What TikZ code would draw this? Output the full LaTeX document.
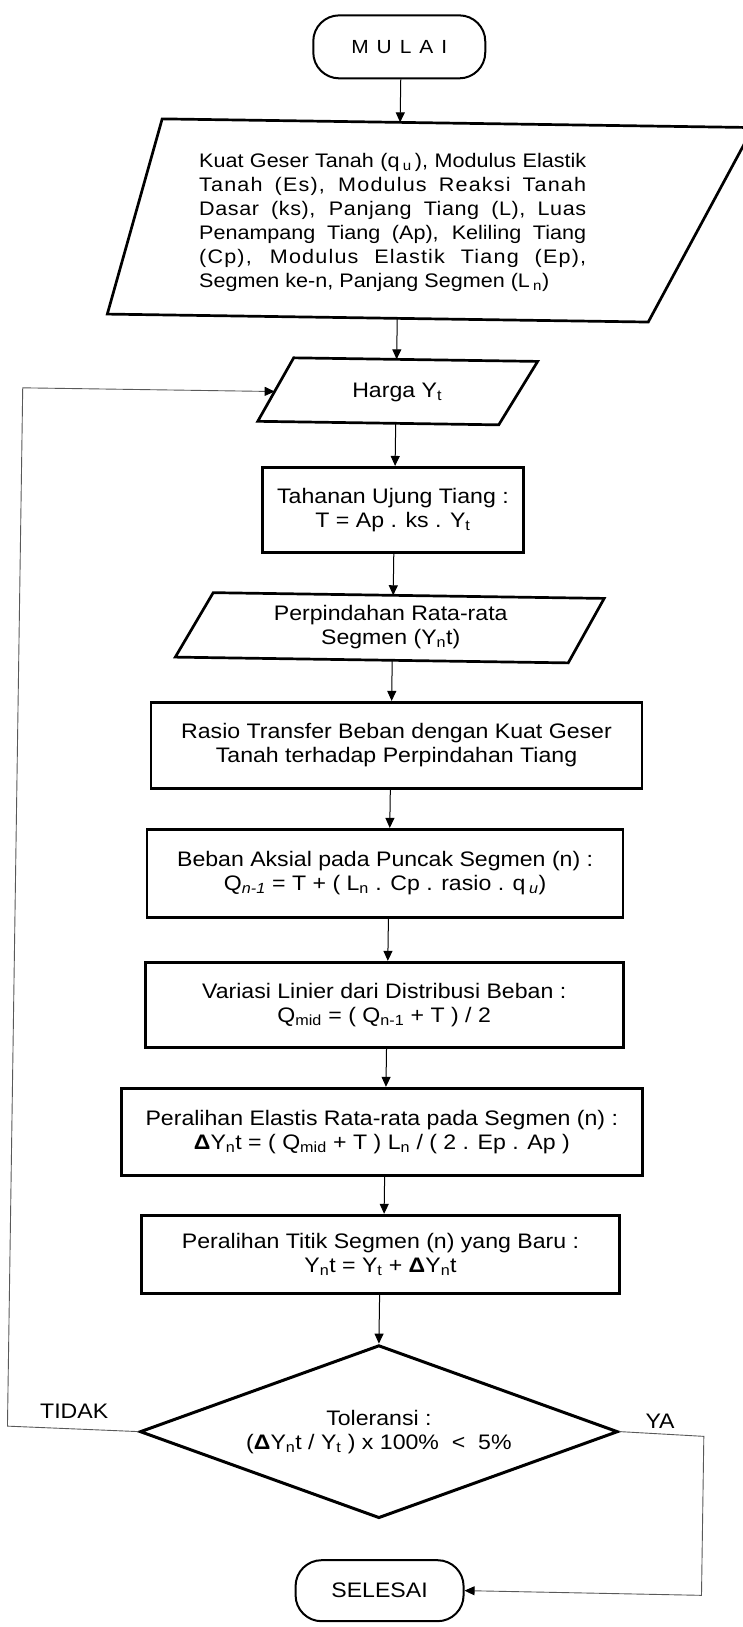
\documentclass[tikz,border=0pt]{standalone}
\usepackage{fontspec}
\setmainfont{Liberation Sans}[FakeStretch=1.1]
\newfontfamily\spacedA{Liberation Sans}[FakeStretch=1.1, LetterSpace=6]
\newfontfamily\spacedB{Liberation Sans}[FakeStretch=1.1, LetterSpace=3]
\usetikzlibrary{arrows.meta,shapes.geometric}
\tikzset{
  boxnode/.style={draw, line width=2.7pt, align=center, inner sep=0pt, font=\fontsize{21}{24}\selectfont},
  termnode/.style={draw, line width=2pt, rounded corners=26pt, inner sep=0pt, font=\fontsize{21}{24}\selectfont},
  parashape/.style={draw, line width=2.7pt, line join=miter},
  txt/.style={align=center, inner sep=0pt, font=\fontsize{21}{24}\selectfont},
  flow/.style={line width=1pt, -{Triangle[length=10pt,width=9pt]}},
  back/.style={line width=0.9pt, black!65},
  backarrow/.style={back, -{Triangle[length=10pt,width=9pt,color=black]}},
}
\begin{document}
\begin{tikzpicture}[x=1pt,y=-1pt]
\fill[white] (0,0) rectangle (743,1627);
\useasboundingbox (0,0) rectangle (743,1627);
\begin{scope}[rotate around={-0.842:(371,813)}]
\coordinate (ax) at (390,0);
% start
\node[termnode, minimum width=172pt, minimum height=63pt] (start) at (388,46.5)
  {\fontsize{19}{22}\selectfont M\hspace{8pt}U\hspace{8pt}L\hspace{8pt}A\hspace{8pt}I};
% input data
\draw[parashape] (152,122) -- (743,122) -- (641,318) -- (100,318) -- cycle;
\coordinate (inTop) at (390,122);
\coordinate (inBot) at (390,318);
\node[txt, font=\fontsize{19.6}{24}\selectfont] (inp) at (384,222)
  {\makebox[387pt][s]{Kuat Geser Tanah (q\,\textsubscript{u}\,), Modulus Elastik}\\
   \makebox[387pt][s]{\spacedA Tanah (Es), Modulus Reaksi Tanah}\\
   \makebox[387pt][s]{\spacedB Dasar (ks), Panjang Tiang (L), Luas}\\
   \makebox[387pt][s]{Penampang Tiang (Ap), Keliling Tiang}\\
   \makebox[387pt][s]{\spacedA (Cp), Modulus Elastik Tiang (Ep),}\\
   \makebox[387pt][l]{Segmen ke-n, Panjang Segmen (L\,\textsubscript{n})}};
% Harga Yt
\draw[parashape] (287,359) -- (531,359) -- (493,423) -- (252,423) -- cycle;
\coordinate (hTop) at (390,359);
\coordinate (hBot) at (390,423);
\coordinate (hLeft) at (268.5,393);
\node[txt] (harga) at (391,392) {Harga Y\textsubscript{t}};
% Tahanan
\node[boxnode, minimum width=261pt, minimum height=85pt] (tah) at (388.5,509.5)
  {Tahanan Ujung Tiang :\\ T = Ap . ks . Y\textsubscript{t}};
% Perpindahan
\draw[parashape] (210,595) -- (601,595) -- (566,660) -- (173,660) -- cycle;
\coordinate (pTop) at (390,595);
\coordinate (pBot) at (390,660);
\node[txt] (perp) at (388,627) {Perpindahan Rata-rata\\ Segmen (Y\textsubscript{n}t)};
% Rasio
\node[boxnode, minimum width=491pt, minimum height=86pt] (rasio) at (395.5,745)
  {Rasio Transfer Beban dengan Kuat Geser\\ Tanah terhadap Perpindahan Tiang};
% Beban
\node[boxnode, minimum width=476pt, minimum height=88pt] (beban) at (386,873)
  {Beban Aksial pada Puncak Segmen (n) :\\
   Q\textsubscript{\itshape n-1} = T + ( L\textsubscript{n} . Cp . rasio . q\,\textsubscript{\itshape u})};
% Variasi
\node[boxnode, minimum width=478pt, minimum height=85pt] (var) at (387,1004.5)
  {Variasi Linier dari Distribusi Beban :\\
   Q\textsubscript{mid} = ( Q\textsubscript{n-1} + T ) / 2};
% Elastis
\node[boxnode, minimum width=521pt, minimum height=87pt] (elast) at (386.5,1131.5)
  {Peralihan Elastis Rata-rata pada Segmen (n) :\\
   \textbf{Δ}Y\textsubscript{n}t = ( Q\textsubscript{mid} + T ) L\textsubscript{n} / ( 2 . Ep . Ap )};
% Titik
\node[boxnode, minimum width=478pt, minimum height=78pt] (titik) at (387,1254)
  {Peralihan Titik Segmen (n) yang Baru :\\
   Y\textsubscript{n}t = Y\textsubscript{t} + \textbf{Δ}Y\textsubscript{n}t};
% decision
\node[draw, diamond, aspect=2.76, line width=3pt, minimum width=478pt, minimum height=173pt,
      inner sep=0pt, align=center, font=\fontsize{21}{24}\selectfont] (dec) at (388,1431.5)
  {Toleransi :\\ (\textbf{Δ}Y\textsubscript{n}t / Y\textsubscript{t} ) x 100\% \ {<} \ 5\%};
% end
\node[termnode, minimum width=168pt, minimum height=61pt] (stop) at (391,1590.5) {SELESAI};
% labels
\node[txt] (tidak) at (83,1416) {TIDAK};
\node[txt] (ya) at (669,1417) {YA};
% connectors
\draw[flow] (start.south -| ax) -- (inTop);
\draw[flow] (inBot) -- (hTop);
\draw[flow] (hBot) -- (tah.north -| ax);
\draw[flow] (tah.south -| ax) -- (pTop);
\draw[flow] (pBot) -- (rasio.north -| ax);
\draw[flow] (rasio.south -| ax) -- (beban.north -| ax);
\draw[flow] (beban.south -| ax) -- (var.north -| ax);
\draw[flow] (var.south -| ax) -- (elast.north -| ax);
\draw[flow] (elast.south -| ax) -- (titik.north -| ax);
\draw[flow] (titik.south -| dec.north) -- (dec.north);
\coordinate (fbBot) at (16.5,1431.5);
\coordinate (fbTop) at (16.5,393);
\draw[backarrow] (dec.west) -- (fbBot) -- (fbTop) -- (hLeft);
\coordinate (yaTop) at (713,1431.5);
\coordinate (yaBot) at (713,1590.5);
\draw[backarrow] (dec.east) -- (yaTop) -- (yaBot) -- (stop.east);
\end{scope}
\end{tikzpicture}
\end{document}
